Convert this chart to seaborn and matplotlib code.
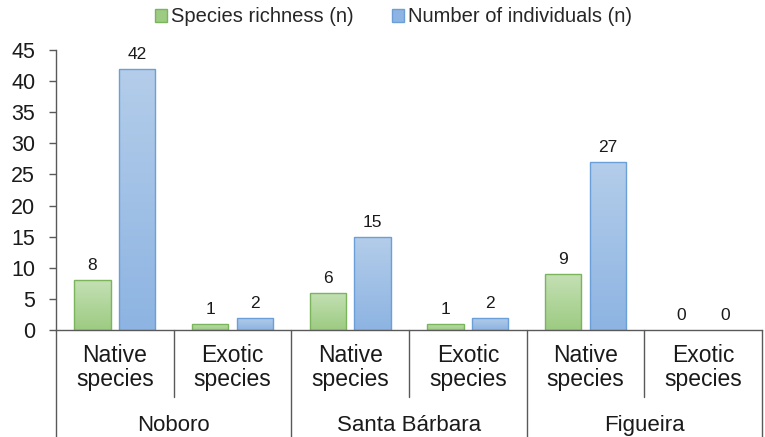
import numpy as np
import pandas as pd
import seaborn as sns
import matplotlib.pyplot as plt
from matplotlib.colors import LinearSegmentedColormap
from matplotlib.patches import Patch

sites = ["Noboro", "Santa Bárbara", "Figueira"]
origins = ["Native\nspecies", "Exotic\nspecies"]
richness = [8, 1, 6, 1, 9, 0]
individuals = [42, 2, 15, 2, 27, 0]
series_names = ["Species richness (n)", "Number of individuals (n)"]
y_ticks = [0, 5, 10, 15, 20, 25, 30, 35, 40, 45]

slots = [f"{s}|{o}" for s in sites for o in origins]
df = pd.DataFrame({
    "slot": slots * 2,
    "series": [series_names[0]] * len(slots) + [series_names[1]] * len(slots),
    "value": richness + individuals,
})

sns.set_theme(style="white")
plt.rcParams["font.family"] = ["Liberation Sans", "DejaVu Sans"]

fig = plt.figure(figsize=(7.65, 4.37), dpi=100)
ax = fig.add_axes([56 / 765, 1 - 330 / 437, (762 - 56) / 765, 280 / 437])

edge_cols = ["#7ab55c", "#6a9fd8"]
top_cols = ["#c4e0b4", "#b4cdea"]
bot_cols = ["#9dcb82", "#8db4e2"]
text_col = "#1a1a1a"

sns.barplot(data=df, x="slot", y="value", hue="series", order=slots,
            hue_order=series_names, palette=bot_cols, width=0.76, gap=0.184,
            saturation=1, legend=False, ax=ax)

ax.set_xticks([])
ax.set_xlabel("")
ax.set_ylabel("")

spine_col = "#595959"
for side in ["top", "right"]:
    ax.spines[side].set_visible(False)
for side in ["left", "bottom"]:
    ax.spines[side].set_color(spine_col)
    ax.spines[side].set_linewidth(1.0)

# Vertical gradient fills clipped to each bar, plus value labels
for i, cont in enumerate(ax.containers):
    cmap = LinearSegmentedColormap.from_list(f"g{i}", [bot_cols[i], top_cols[i]])
    grad = np.linspace(0, 1, 256).reshape(-1, 1)
    values = richness if i == 0 else individuals
    for bar, val in zip(cont.patches, values):
        x0, w, h = bar.get_x(), bar.get_width(), bar.get_height()
        bar.set_edgecolor(edge_cols[i])
        bar.set_linewidth(1.0)
        if h > 0:
            bar.set_facecolor("none")
            im = ax.imshow(grad, extent=[x0, x0 + w, 0, h], origin="lower",
                           cmap=cmap, aspect="auto", zorder=bar.get_zorder() - 0.1)
            im.set_clip_path(bar)
        else:
            bar.set_visible(False)
        ax.annotate(f"{val:g}", (x0 + w / 2, h), xytext=(0, 5),
                    textcoords="offset points", ha="center", va="bottom",
                    fontsize=12.5, color=text_col)

ax.set_xlim(-0.5, len(slots) - 0.5)
ax.set_ylim(0, 45)
ax.set_yticks(y_ticks)
ax.set_yticklabels([str(t) for t in y_ticks], fontsize=15.5, color=text_col)
ax.tick_params(axis="y", left=True, length=5, width=1.0, color=spine_col, pad=10)

# Two-level category axis
trans = ax.get_xaxis_transform()
for k, slot in enumerate(slots):
    ax.text(k, -0.134, slot.split("|")[1], transform=trans, ha="center",
            va="center", fontsize=16.5, color=text_col, linespacing=1.1)
for j, site in enumerate(sites):
    ax.text(2 * j + 0.5, -0.34, site, transform=trans, ha="center",
            va="center", fontsize=16, color=text_col)
    ax.plot([2 * j + 0.5] * 2, [0, -0.239], transform=trans, color=spine_col,
            lw=1.0, clip_on=False)
for b in [-0.5, 1.5, 3.5, 5.5]:
    ax.plot([b, b], [0, -0.4], transform=trans, color=spine_col, lw=1.0,
            clip_on=False)

# Legend
handles = [Patch(facecolor=bot_cols[i], edgecolor=edge_cols[i], label=series_names[i])
           for i in range(2)]
fig.legend(handles=handles, loc="center right", bbox_to_anchor=(632 / 765, 1 - 17 / 437),
           ncol=2, frameon=False, fontsize=14.5, handlelength=0.6, handleheight=0.6,
           handletextpad=0.2, columnspacing=1.9, borderpad=0, borderaxespad=0)

fig.savefig("out.png", dpi=100)
